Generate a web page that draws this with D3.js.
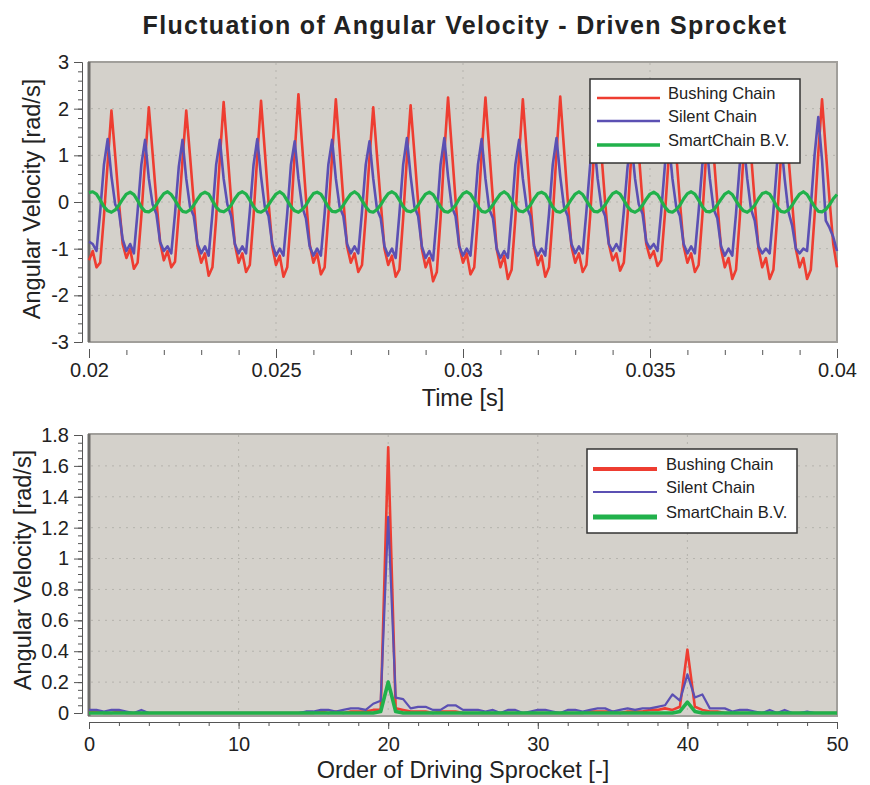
<!DOCTYPE html>
<html>
<head>
<meta charset="utf-8">
<script src="https://cdn.jsdelivr.net/npm/d3@7"></script>
<style>
  body { margin: 0; background: #fff; }
  svg text { font-family: "Liberation Sans", Arial, sans-serif; fill: #222; }
</style>
</head>
<body>
<div id="chart"></div>
<script>
// series labels + colours
const seriesNames = ["Bushing Chain", "Silent Chain", "SmartChain B.V."];
const seriesColors = ["#ee3d31", "#5b50b3", "#21b14b"];

// time domain, sampled every 0.1 ms from 0.02 s
const timeStart = 0.02;
const timeStep = 0.0001;
const bushingTime = [
  -1.25,-1.05,-1.4,-1.3,-0.3,0.85,1.96,1.0,0.0,-0.9,
  -1.2,-1.0,-1.43,-1.3,-0.3,0.9,2.03,1.05,0.05,-0.85,
  -1.25,-1.05,-1.4,-1.28,-0.25,0.9,1.96,1.0,0.0,-0.95,
  -1.3,-1.1,-1.58,-1.4,-0.35,0.95,2.14,1.1,0.05,-0.9,
  -1.3,-1.1,-1.5,-1.35,-0.3,1.0,2.17,1.1,0.0,-0.95,
  -1.35,-1.15,-1.6,-1.4,-0.3,1.05,2.31,1.2,0.1,-0.9,
  -1.3,-1.1,-1.55,-1.4,-0.3,1.0,2.2,1.15,0.05,-0.95,
  -1.3,-1.1,-1.5,-1.35,-0.3,0.95,2.03,1.0,0.0,-1.0,
  -1.35,-1.15,-1.6,-1.45,-0.35,0.95,2.07,1.05,0.0,-1.0,
  -1.4,-1.2,-1.7,-1.5,-0.35,1.05,2.24,1.15,0.05,-0.95,
  -1.3,-1.1,-1.55,-1.4,-0.3,1.05,2.24,1.15,0.05,-1.0,
  -1.4,-1.15,-1.65,-1.45,-0.35,1.0,2.2,1.1,0.05,-0.95,
  -1.35,-1.15,-1.6,-1.4,-0.3,1.05,2.26,1.15,0.05,-0.95,
  -1.3,-1.1,-1.5,-1.35,-0.3,1.0,2.1,1.05,0.0,-0.9,
  -1.25,-1.1,-1.47,-1.3,-0.3,1.0,2.1,1.05,0.0,-0.9,
  -1.2,-1.05,-1.37,-1.25,-0.25,0.95,2.05,1.05,0.0,-0.95,
  -1.3,-1.1,-1.5,-1.35,-0.3,1.0,2.1,1.05,0.0,-1.0,
  -1.4,-1.2,-1.65,-1.45,-0.35,1.0,2.1,1.05,0.0,-1.0,
  -1.4,-1.2,-1.65,-1.45,-0.35,0.95,2.05,1.0,0.0,-1.0,
  -1.4,-1.2,-1.65,-1.45,-0.3,1.05,2.2,1.1,0.05,-0.9,
  -1.4
];
const silentTime = [
  -0.85,-0.9,-1.05,-0.2,0.8,1.35,0.55,-0.05,-0.2,-0.8,
  -1.05,-0.9,-1.1,-0.2,0.8,1.33,0.5,-0.05,-0.25,-0.85,
  -1.05,-0.95,-1.1,-0.25,0.75,1.33,0.5,-0.1,-0.3,-0.9,
  -1.1,-0.95,-1.15,-0.25,0.8,1.33,0.5,-0.05,-0.3,-0.9,
  -1.1,-0.95,-1.1,-0.2,0.8,1.35,0.55,-0.1,-0.3,-0.9,
  -1.15,-1.0,-1.15,-0.25,0.8,1.3,0.5,-0.1,-0.35,-0.95,
  -1.15,-1.0,-1.15,-0.25,0.8,1.33,0.5,-0.1,-0.3,-0.9,
  -1.1,-0.95,-1.1,-0.2,0.8,1.3,0.5,-0.15,-0.35,-0.95,
  -1.15,-1.0,-1.2,-0.25,0.8,1.37,0.55,-0.1,-0.3,-0.95,
  -1.2,-1.05,-1.25,-0.3,0.8,1.37,0.55,-0.1,-0.3,-0.95,
  -1.15,-1.0,-1.15,-0.25,0.8,1.35,0.5,-0.15,-0.35,-1.0,
  -1.2,-1.05,-1.2,-0.25,0.8,1.33,0.5,-0.1,-0.3,-0.95,
  -1.15,-1.0,-1.15,-0.25,0.8,1.37,0.55,-0.1,-0.3,-0.9,
  -1.1,-0.95,-1.1,-0.2,0.8,1.35,0.5,-0.1,-0.3,-0.9,
  -1.05,-0.9,-1.05,-0.2,0.75,1.3,0.5,-0.05,-0.25,-0.85,
  -1.0,-0.9,-1.05,-0.2,0.8,1.33,0.5,-0.1,-0.3,-0.9,
  -1.1,-0.95,-1.1,-0.2,0.8,1.35,0.5,-0.15,-0.35,-0.95,
  -1.15,-1.0,-1.15,-0.25,0.8,1.3,0.5,-0.15,-0.4,-0.95,
  -1.1,-1.0,-1.1,-0.2,0.85,1.33,0.5,-0.2,-0.5,-1.0,
  -1.1,-1.0,-1.05,-0.1,1.0,1.82,0.9,-0.4,-0.55,-0.75,
  -1.05
];
const smartTime = [
  0.2,
  0.22,0.17,0.04,-0.1,-0.19,-0.22,-0.17,-0.07,0.06,0.17,
  0.21,0.16,0.03,-0.11,-0.2,-0.21,-0.16,-0.06,0.07,0.18,
  0.22,0.16,0.04,-0.1,-0.2,-0.22,-0.17,-0.07,0.06,0.17,
  0.21,0.17,0.03,-0.11,-0.19,-0.21,-0.16,-0.07,0.07,0.18,
  0.22,0.17,0.04,-0.1,-0.2,-0.22,-0.17,-0.06,0.06,0.17,
  0.22,0.16,0.03,-0.1,-0.19,-0.22,-0.16,-0.07,0.07,0.18,
  0.21,0.17,0.04,-0.11,-0.2,-0.21,-0.17,-0.07,0.06,0.17,
  0.22,0.16,0.03,-0.1,-0.2,-0.22,-0.16,-0.06,0.07,0.18,
  0.22,0.17,0.04,-0.1,-0.19,-0.21,-0.17,-0.07,0.06,0.17,
  0.21,0.16,0.03,-0.11,-0.2,-0.22,-0.16,-0.07,0.07,0.18,
  0.22,0.17,0.04,-0.1,-0.2,-0.22,-0.17,-0.06,0.06,0.17,
  0.22,0.16,0.03,-0.1,-0.19,-0.21,-0.16,-0.07,0.07,0.18,
  0.21,0.17,0.04,-0.11,-0.2,-0.22,-0.17,-0.07,0.06,0.17,
  0.22,0.16,0.03,-0.1,-0.2,-0.21,-0.16,-0.06,0.07,0.18,
  0.22,0.17,0.04,-0.1,-0.19,-0.22,-0.17,-0.07,0.06,0.17,
  0.21,0.16,0.03,-0.11,-0.2,-0.22,-0.16,-0.07,0.07,0.18,
  0.22,0.17,0.04,-0.1,-0.2,-0.21,-0.17,-0.06,0.06,0.17,
  0.22,0.16,0.03,-0.1,-0.19,-0.22,-0.16,-0.07,0.07,0.18,
  0.21,0.17,0.04,-0.11,-0.2,-0.22,-0.17,-0.07,0.06,0.17,
  0.22,0.16,0.03,-0.1,-0.2,-0.21,-0.16,-0.06,0.07,0.16
];

// order spectrum, every 0.5 order from 0 to 50
const orderStart = 0;
const orderStep = 0.5;
const bushingOrder = [
  0.01,0.01,0,0,0.01,0,0,0,0,0,
  0,0,0,0,0,0,0,0,0,0,
  0,0,0,0,0,0,0,0,0,0,
  0,0.01,0,0.01,0,0.01,0.01,0.01,0.02,0.02,
  1.72,0.03,0.02,0.01,0.01,0.01,0,0.01,0.01,0.01,
  0,0,0,0,0,0,0,0,0,0,
  0,0,0,0,0,0,0,0.01,0.01,0.01,
  0.01,0,0.01,0.01,0.01,0.02,0.02,0.03,0.02,0.04,
  0.41,0.04,0.02,0.01,0.01,0,0,0,0,0,
  0,0,0,0,0,0,0,0,0,0,
  0
];
const silentOrder = [
  0.02,0.02,0.01,0.02,0.02,0.01,0,0.02,0,0,
  0,0,0,0,0,0,0,0,0,0,
  0,0,0,0,0,0,0,0,0,0.01,
  0.01,0.02,0.02,0.01,0.02,0.03,0.03,0.02,0.06,0.08,
  1.27,0.1,0.09,0.03,0.04,0.04,0.02,0.02,0.05,0.05,
  0.02,0.02,0.02,0.01,0.02,0,0.02,0.02,0,0.01,
  0.02,0.02,0.01,0,0.02,0.02,0.01,0.02,0.03,0.03,
  0.01,0.02,0.03,0.02,0.03,0.03,0.04,0.05,0.12,0.08,
  0.25,0.1,0.12,0.03,0.03,0.03,0.01,0.02,0.02,0.01,
  0,0.02,0,0.02,0,0,0.01,0,0,0,
  0
];
const smartOrder = [
  0,0,0,0,0,0,0,0,0,0,
  0,0,0,0,0,0,0,0,0,0,
  0,0,0,0,0,0,0,0,0,0,
  0,0,0,0,0,0,0,0,0,0.01,
  0.2,0.01,0,0,0,0,0,0,0,0,
  0,0,0,0,0,0,0,0,0,0,
  0,0,0,0,0,0,0,0,0,0,
  0,0,0,0,0,0,0,0,0,0.01,
  0.07,0.01,0,0,0,0,0,0,0,0,
  0,0,0,0,0,0,0,0,0,0,
  0
];

// ticks
const timeTicks = [0.02, 0.025, 0.03, 0.035, 0.04];
const timeValueTicks = [-3, -2, -1, 0, 1, 2, 3];
const orderTicks = [0, 10, 20, 30, 40, 50];
const orderValueTicks = [0, 0.2, 0.4, 0.6, 0.8, 1, 1.2, 1.4, 1.6, 1.8];

const width = 870;
const height = 785;
const plotLeft = 89;
const plotRight = 837;

const svg = d3.select("#chart")
  .append("svg")
  .attr("width", width)
  .attr("height", height);

svg.append("rect")
  .attr("width", width)
  .attr("height", height)
  .attr("fill", "#fff");

// title
svg.append("text")
  .attr("x", 465)
  .attr("y", 34)
  .attr("text-anchor", "middle")
  .attr("font-weight", "bold")
  .attr("font-size", 25)
  .attr("letter-spacing", 1.3)
  .text("Fluctuation of Angular Velocity - Driven Sprocket");

function drawPanel(p) {
  const x = d3.scaleLinear().domain(p.xDomain).range([plotLeft, plotRight]);
  const y = d3.scaleLinear().domain(p.yDomain).range([p.yBottom, p.yTop]);
  const g = svg.append("g");

  // plot background + frame
  g.append("rect")
    .attr("x", plotLeft)
    .attr("y", p.frameTop)
    .attr("width", plotRight - plotLeft)
    .attr("height", p.frameBottom - p.frameTop)
    .attr("fill", "#d4d1cb")
    .attr("stroke", "#a19f9b")
    .attr("stroke-width", 2);
  g.append("line")
    .attr("x1", plotLeft).attr("x2", plotLeft)
    .attr("y1", p.frameTop).attr("y2", p.frameBottom)
    .attr("stroke", "#6e6d6a")
    .attr("stroke-width", 3);

  // dotted grid
  g.selectAll(".hgrid")
    .data(p.yTicks.filter(d => d !== p.yDomain[0] && d !== p.yDomain[1]))
    .enter()
    .append("line")
    .attr("x1", plotLeft + 2).attr("x2", plotRight - 1)
    .attr("y1", d => y(d)).attr("y2", d => y(d))
    .attr("stroke", "#b5b3ad")
    .attr("stroke-width", 1)
    .attr("stroke-dasharray", "2,5");
  g.selectAll(".vgrid")
    .data(p.xTicks.filter(d => d !== p.xDomain[0] && d !== p.xDomain[1]))
    .enter()
    .append("line")
    .attr("x1", d => x(d)).attr("x2", d => x(d))
    .attr("y1", p.frameTop + 1).attr("y2", p.frameBottom - 1)
    .attr("stroke", "#b5b3ad")
    .attr("stroke-width", 1)
    .attr("stroke-dasharray", "2,5");

  // y axis (minor then major)
  const yAxisX = 82;
  g.append("g")
    .attr("transform", `translate(${yAxisX},0)`)
    .call(d3.axisLeft(y).tickValues(p.yMinor).tickSize(4).tickSizeOuter(0).tickFormat(""))
    .call(a => a.selectAll("line, path").attr("stroke", "#555"));
  g.append("g")
    .attr("transform", `translate(${yAxisX},0)`)
    .call(d3.axisLeft(y).tickValues(p.yTicks).tickSize(8).tickSizeOuter(0).tickPadding(5).tickFormat(d => String(d)))
    .call(a => a.selectAll("line, path").attr("stroke", "#555"))
    .call(a => a.selectAll("text").attr("font-size", 20).attr("font-family", "Liberation Sans, Arial, sans-serif").attr("fill", "#222"));

  // x axis
  const xMinor = g.append("g")
    .attr("transform", `translate(0,${p.xAxisY + (p.xDomainLine ? 0 : 1)})`)
    .call(d3.axisBottom(x).tickValues(p.xMinor).tickSize(p.xDomainLine ? 4 : 5).tickSizeOuter(0).tickFormat(""))
    .call(a => a.selectAll("line, path").attr("stroke", "#555"));
  const xMajor = g.append("g")
    .attr("transform", `translate(0,${p.xAxisY})`)
    .call(d3.axisBottom(x).tickValues(p.xTicks).tickSize(p.xTickSize).tickSizeOuter(0).tickPadding(p.xPad).tickFormat(d => String(d)))
    .call(a => a.selectAll("line, path").attr("stroke", "#555"))
    .call(a => a.selectAll("text").attr("font-size", 20).attr("font-family", "Liberation Sans, Arial, sans-serif").attr("fill", "#222"));
  if (!p.xDomainLine) {
    xMinor.select(".domain").remove();
    xMajor.select(".domain").remove();
  }

  // axis titles
  g.append("text")
    .attr("x", (plotLeft + plotRight) / 2)
    .attr("y", p.xTitleY)
    .attr("text-anchor", "middle")
    .attr("font-size", 23.5)
    .text(p.xTitle);
  g.append("text")
    .attr("transform", `translate(${p.yTitleX},${p.yTitleCenter}) rotate(-90)`)
    .attr("text-anchor", "middle")
    .attr("font-size", 23.5)
    .text("Angular Velocity [rad/s]");

  // series
  const line = d3.line()
    .x(d => x(d[0]))
    .y(d => y(d[1]));
  p.series.forEach((s, k) => {
    const pts = s.map((v, i) => [p.xStart + i * p.xStep, v]);
    g.append("path")
      .datum(pts)
      .attr("d", line)
      .attr("fill", "none")
      .attr("stroke", seriesColors[k])
      .attr("stroke-width", p.lineWidths[k])
      .attr("stroke-linejoin", "round");
  });

  // legend
  const lg = g.append("g")
    .attr("transform", `translate(${p.legend.x},${p.legend.y})`);
  lg.append("rect")
    .attr("width", p.legend.w)
    .attr("height", p.legend.h)
    .attr("fill", "#fff")
    .attr("stroke", "#333")
    .attr("stroke-width", 1.5);
  seriesNames.forEach((name, k) => {
    const ly = p.legend.rowY[k];
    lg.append("line")
      .attr("x1", p.legend.lineX[0]).attr("x2", p.legend.lineX[1])
      .attr("y1", ly).attr("y2", ly)
      .attr("stroke", seriesColors[k])
      .attr("stroke-width", p.legend.widths[k]);
    lg.append("text")
      .attr("x", p.legend.textX)
      .attr("y", ly + 1)
      .attr("font-size", 16.5)
      .attr("fill", "#222")
      .text(name);
  });
}

// top: time signal
drawPanel({
  xDomain: [0.02, 0.04],
  yDomain: [-3, 3],
  yTop: 62, yBottom: 342,
  frameTop: 62, frameBottom: 342,
  xTicks: timeTicks,
  xMinor: d3.range(0, 21).map(i => 0.02 + i * 0.001),
  yTicks: timeValueTicks,
  yMinor: d3.range(0, 31).map(i => -3 + i * 0.2),
  xAxisY: 349, xTickSize: 9, xPad: 5, xDomainLine: false,
  xTitle: "Time [s]", xTitleY: 406,
  yTitleX: 40, yTitleCenter: 199,
  xStart: timeStart, xStep: timeStep,
  series: [bushingTime, silentTime, smartTime],
  lineWidths: [2.6, 2.6, 3.2],
  legend: { x: 590, y: 79, w: 210, h: 84, rowY: [19, 42, 66], lineX: [7, 70], textX: 78, widths: [2.5, 2.5, 3.5] }
});

// bottom: order spectrum
drawPanel({
  xDomain: [0, 50],
  yDomain: [0, 1.8],
  yTop: 435, yBottom: 713,
  frameTop: 434, frameBottom: 716,
  xTicks: orderTicks,
  xMinor: d3.range(0, 26).map(i => i * 2),
  yTicks: orderValueTicks,
  yMinor: d3.range(0, 37).map(i => i * 0.05),
  xAxisY: 722, xTickSize: 7, xPad: 8, xDomainLine: true,
  xTitle: "Order of Driving Sprocket [-]", xTitleY: 778,
  yTitleX: 31, yTitleCenter: 570,
  xStart: orderStart, xStep: orderStep,
  series: [bushingOrder, silentOrder, smartOrder],
  lineWidths: [2.6, 2.2, 3.6],
  legend: { x: 587, y: 449, w: 210, h: 84, rowY: [20, 43, 68], lineX: [6, 70], textX: 79, widths: [4, 2, 5] }
});
</script>
</body>
</html>
